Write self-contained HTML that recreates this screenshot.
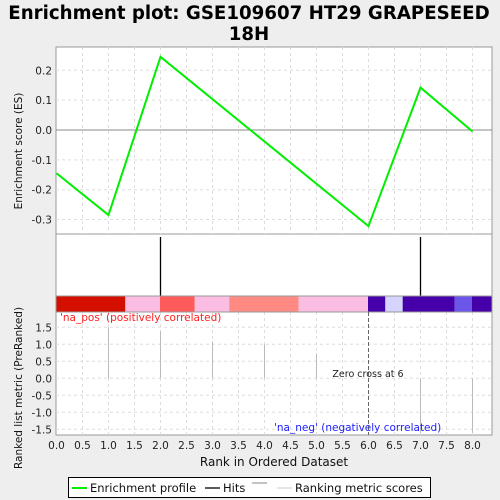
<!DOCTYPE html>
<html><head><meta charset="utf-8"><style>
body{margin:0;background:#eeeeee;font-family:"DejaVu Sans",sans-serif}
svg{display:block}
</style></head><body>
<svg id="c" width="500" height="500" xmlns="http://www.w3.org/2000/svg" font-family="DejaVu Sans, sans-serif">
<rect width="500" height="500" fill="#eeeeee"/>
<text x="249" y="19" font-size="18.2" font-weight="bold" text-anchor="middle">Enrichment plot: GSE109607 HT29 GRAPESEED</text>
<text x="249" y="40" font-size="18.2" font-weight="bold" text-anchor="middle">18H</text>
<g id="g"></g>
</svg>
<script>
const esX=[0,1,2,6,7,8];
const esY=[-0.145,-0.285,0.245,-0.322,0.142,-0.005];
const hits=[2,7];
const metricX=[1,2,3,4,5,7,8];
const metricY=[1.5,1.38,1.08,1.0,0.73,-1.6,-1.6];
const esTicks=[0.2,0.1,0.0,-0.1,-0.2,-0.3];
const esTickLabels=["0.2","0.1","0.0","-0.1","-0.2","-0.3"];
const mTicks=[1.5,1.0,0.5,0.0,-0.5,-1.0,-1.5];
const mTickLabels=["1.5","1.0","0.5","0.0","-0.5","-1.0","-1.5"];
const xTicks=[0,0.5,1,1.5,2,2.5,3,3.5,4,4.5,5,5.5,6,6.5,7,7.5,8];
const xTickLabels=["0.0","0.5","1.0","1.5","2.0","2.5","3.0","3.5","4.0","4.5","5.0","5.5","6.0","6.5","7.0","7.5","8.0"];
const bandStarts=[0,1.333,2,2.667,3.333,4.667,6,6.333,6.667,7.667,8];
const bandEnds=[1.333,2,2.667,3.333,4.667,6,6.333,6.667,7.667,8,8.385];
const bandColors=["#d40f00","#fcbde3","#ff5b5b","#fcbde3","#ff8a84","#fcbde3","#4500aa","#d4d4fc","#4500aa","#6c56ea","#4500aa"];

const NS="http://www.w3.org/2000/svg";
const g=document.getElementById('g');
const L=56,R=492;
const xs=v=>L+0.5+v*52;
const yES=v=>130-v*298.5;
const yM=v=>378.3-v*34;
function el(t,a,txt){const e=document.createElementNS(NS,t);for(const k in a)e.setAttribute(k,a[k]);if(txt!=null)e.textContent=txt;g.appendChild(e);return e;}

let p=el('rect',{x:L,y:47,width:R-L,height:187,fill:'#fff',stroke:'#999'});


p=el('rect',{x:L,y:234,width:R-L,height:62,fill:'#fff',stroke:'#999'});


p=el('rect',{x:L,y:312,width:R-L,height:123,fill:'#fff',stroke:'#999'});



xTicks.forEach(t=>{
 if(t===0)return;
 [[47,234],[312,435]].forEach(r=>{const l=el('line',{x1:xs(t),x2:xs(t),y1:r[0],y2:r[1],stroke:'#ddd','stroke-dasharray':'3,3'});
 
 });
});
esTicks.forEach((t,i)=>{
 const y=yES(t);
 if(t!==0){const l=el('line',{x1:L,x2:R,y1:y,y2:y,stroke:'#ddd','stroke-dasharray':'3,3'});
 
 }
 const tx=el('text',{x:L-4,y:y+4,'font-size':10.5,'text-anchor':'end',fill:'#222'},esTickLabels[i]);
 
 
});
let z=el('line',{x1:L,x2:R,y1:yES(0),y2:yES(0),stroke:'#888'});


mTicks.forEach((t,i)=>{
 const y=yM(t);
 const l=el('line',{x1:L,x2:R,y1:y,y2:y,stroke:'#ddd','stroke-dasharray':'3,3'});
 
 
 const tx=el('text',{x:L-4,y:y+4,'font-size':10.5,'text-anchor':'end',fill:'#222'},mTickLabels[i]);
 
 
});
xTicks.forEach((t,i)=>{
 const tx=el('text',{x:xs(t),y:449,'font-size':10.5,'text-anchor':'middle',fill:'#222'},xTickLabels[i]);
 
 
});

const pl=el('polyline',{points:esX.map((x,i)=>xs(x)+','+yES(esY[i])).join(' '),fill:'none',stroke:'#00ee00','stroke-width':2});



hits.forEach(h=>{const l=el('line',{x1:xs(h),x2:xs(h),y1:237,y2:296,stroke:'#000','stroke-width':1.3});
 
 });

bandStarts.forEach((s,i)=>{const r=el('rect',{x:xs(s)-0.5,y:296,width:(bandEnds[i]-s)*52,height:16,fill:bandColors[i]});
 
 });
let bb=el('rect',{x:L,y:296,width:R-L,height:16,fill:'none',stroke:'#999'});



metricX.forEach((x,i)=>{const l=el('line',{x1:xs(x),x2:xs(x),y1:yM(0),y2:yM(metricY[i]),stroke:'#bbb'});
 
 });
let zc=el('line',{x1:xs(6),x2:xs(6),y1:312,y2:435,stroke:'#666','stroke-dasharray':'4,2'});


let t=el('text',{x:368,y:377,'font-size':9.5,'text-anchor':'middle',fill:'#222'},'Zero cross at 6');


t=el('text',{x:60,y:321,'font-size':10.5,fill:'#ff2020'},"'na_pos' (positively correlated)");


t=el('text',{x:274,y:431,'font-size':10.5,fill:'#2020ff'},"'na_neg' (negatively correlated)");



t=el('text',{x:0,y:0,'font-size':10.5,'text-anchor':'middle',fill:'#111',transform:'translate(22,151) rotate(-90)'},'Enrichment score (ES)');


t=el('text',{x:0,y:0,'font-size':10.5,'text-anchor':'middle',fill:'#111',transform:'translate(22,388) rotate(-90)'},'Ranked list metric (PreRanked)');


t=el('text',{x:274,y:466,'font-size':12,'text-anchor':'middle',fill:'#111'},'Rank in Ordered Dataset');



let lg=el('rect',{x:68.5,y:477.5,width:362,height:20,fill:'#fff',stroke:'#000'});


let ll=el('line',{x1:72,x2:87,y1:488,y2:488,stroke:'#00ee00','stroke-width':2});


t=el('text',{x:90,y:492,'font-size':11.5,fill:'#111'},'Enrichment profile');


ll=el('line',{x1:205,x2:220,y1:488,y2:488,stroke:'#000','stroke-width':1.3});


t=el('text',{x:223,y:492,'font-size':11.5,fill:'#111'},'Hits');


ll=el('line',{x1:252,x2:267,y1:483,y2:483,stroke:'#888'});


ll=el('line',{x1:277,x2:292,y1:488,y2:488,stroke:'#ccc'});


t=el('text',{x:295,y:492,'font-size':11.5,fill:'#111'},'Ranking metric scores');


</script>
</body></html>
